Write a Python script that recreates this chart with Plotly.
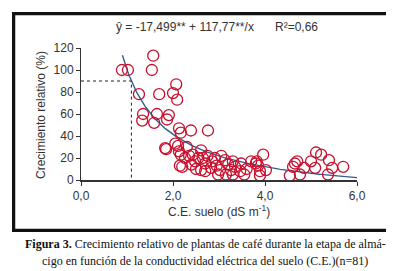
import numpy as np
import plotly.graph_objects as go

# Observed data (C.E. suelo, crecimiento relativo %)
ce_suelo = [0.89, 1.02, 1.57, 1.54, 1.26, 1.70, 2.00, 2.07, 2.09, 1.35,
            1.65, 1.91, 1.33, 1.59, 1.87, 2.13, 2.17, 2.39, 2.76, 1.83,
            2.11, 2.13, 2.26, 2.15, 2.17, 2.35, 2.43, 2.61, 2.65, 2.48,
            2.70, 2.91, 3.13, 3.30, 3.48, 2.61, 2.83, 3.02, 3.26, 3.46,
            3.15, 2.98, 3.30, 3.96, 3.80, 3.89, 3.89, 3.70, 4.02, 4.65,
            4.70, 4.85, 4.61, 4.54, 4.76, 5.00, 5.11, 5.22, 5.39, 5.09,
            5.46, 5.37, 5.70, 1.85, 2.20, 2.40, 2.55, 2.75, 2.85, 2.95,
            3.05, 3.20, 3.35, 2.50, 3.60, 3.85, 2.30, 3.82, 2.05, 3.55, 2.70]
crec_rel = [100, 100, 113, 100, 78, 78, 79, 87, 73, 60,
            60, 59, 54, 52, 55, 47, 43, 45, 45, 29,
            31, 26, 20, 13, 23, 22, 23, 27, 20, 17,
            15, 20, 18, 17, 15, 9, 11, 9, 9, 8,
            5, 5, 5, 23, 15, 8, 4, 17, 9, 15,
            17, 11, 12, 4, 5, 17, 25, 23, 18, 11,
            11, 5, 12, 28, 12, 14, 20, 22, 17, 13,
            22, 14, 12, 10, 10, 13, 30, 17, 33, 5, 8]

# Fitted model y = a + b/x
coef_a = -17.499
coef_b = 117.77
x_fit_min, x_fit_max = 0.9, 6.0
y_ref = 90  # reference level (dotted lines)

x_ticks = [0, 2, 4, 6]
x_tick_labels = ["0,0", "2,0", "4,0", "6,0"]
y_ticks = [0, 20, 40, 60, 80, 100, 120]

# frame outline corners (fractions of the frame subplot)
frame_x = [0, 1, 1, 0, 0]
frame_y = [0, 0, 1, 1, 0]

xf = np.linspace(x_fit_min, x_fit_max, 200)
yf = coef_a + coef_b / xf
x_ref = coef_b / (y_ref - coef_a)

W, H = 394, 271
# frame box (pixels) and axes area (pixels)
BX0, BX1, BY0, BY1 = 6, 387, 6, 222
AX0, AX1, AY0, AY1 = 73, 349, 40, 172
bw, bh = BX1 - BX0, BY1 - BY0

def px(xp):
    return (xp - BX0) / bw

def py(yp):
    return (BY1 - yp) / bh

fig = go.Figure()
# frame drawn as a closed line on its own subplot covering the whole box
fig.add_trace(go.Scatter(x=frame_x, y=frame_y, xaxis="x2", yaxis="y2", mode="lines",
                         line=dict(color="#111111", width=2.5), cliponaxis=False,
                         hoverinfo="skip", showlegend=False))
fig.add_trace(go.Scatter(x=xf, y=yf, mode="lines",
                         line=dict(color="#2f5f8f", width=1.4),
                         hoverinfo="skip", showlegend=False))
fig.add_trace(go.Scatter(x=[0, x_ref, x_ref], y=[y_ref, y_ref, 0], mode="lines",
                         line=dict(color="#222222", width=1, dash="dot"),
                         showlegend=False))
fig.add_trace(go.Scatter(x=ce_suelo, y=crec_rel, mode="markers",
                         marker=dict(symbol="circle-open", size=11,
                                     color="#c8102e", line=dict(width=1.3)),
                         showlegend=False))

axis_font = dict(family="Liberation Sans, Arial", size=12, color="#333333")
fig.update_layout(
    xaxis=dict(range=[0, 6], tickvals=x_ticks, ticktext=x_tick_labels,
               domain=[px(AX0), px(AX1)], automargin=False,
               showgrid=False, zeroline=False, showline=True,
               linecolor="#333333", linewidth=1.5, ticks="outside",
               ticklen=4, tickcolor="#333333", tickfont=axis_font),
    yaxis=dict(range=[0, 120], tickvals=y_ticks, showgrid=False,
               domain=[py(AY1), py(AY0)], automargin=False,
               zeroline=False, showline=True, linecolor="#333333",
               linewidth=1, ticks="outside", ticklen=4,
               tickcolor="#333333", tickfont=axis_font),
    xaxis2=dict(domain=[0, 1], anchor="y2", range=[0, 1], showline=True, mirror=True,
                linecolor="#111111", linewidth=1.5, showgrid=False, zeroline=False,
                showticklabels=False, ticks="", automargin=False),
    yaxis2=dict(domain=[0, 1], anchor="x2", range=[0, 1], showline=True, mirror=True,
                linecolor="#111111", linewidth=1.5, showgrid=False, zeroline=False,
                showticklabels=False, ticks="", automargin=False),
)

cap_font = dict(family="Liberation Serif, serif", size=12, color="#111111")
annots = [
    dict(x=px(177), y=py(19), text="ŷ = -17,499** + 117,77**/x", font=axis_font),
    dict(x=px(288), y=py(19), text="R²=0,66", font=axis_font),
    dict(x=px(33), y=py(107), text="Crecimiento relativo (%)", textangle=-90, font=axis_font),
    dict(x=px(211), y=py(203), text="C.E. suelo (dS m<sup>-1</sup>)", font=axis_font),
    dict(x=px(197), y=py(236),
         text="<b>Figura 3.</b> Crecimiento relativo de plantas de café durante la etapa de almá-",
         font=cap_font),
    dict(x=px(197), y=py(253),
         text="cigo en función de la conductividad eléctrica del suelo (C.E.)(n=81)",
         font=cap_font),
]
for a in annots:
    a.update(xref="paper", yref="paper", showarrow=False, xanchor="center", yanchor="middle")

fig.update_layout(
    width=W, height=H,
    margin=dict(l=BX0, r=W - BX1, t=BY0, b=H - BY1, pad=0),
    paper_bgcolor="white", plot_bgcolor="rgba(0,0,0,0)",
    annotations=annots,
)
fig.write_html("out.html")
